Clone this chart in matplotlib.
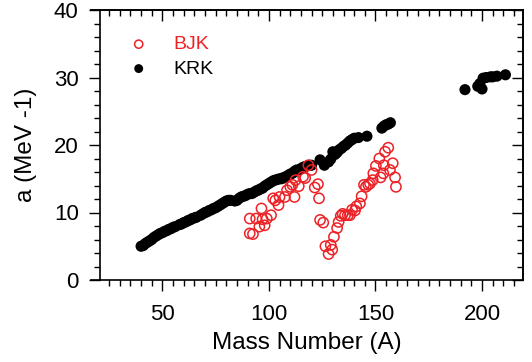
import numpy as np
import matplotlib
matplotlib.use("Agg")
import matplotlib.pyplot as plt
from matplotlib.ticker import FixedLocator

plt.rcParams['font.family'] = ['Liberation Sans', 'DejaVu Sans']

RED = '#ec2227'

# KRK systematics (filled black dots)
krk_A = [40, 41, 42, 43, 44, 45, 46, 47, 48, 49, 50, 51, 52, 53, 54, 55, 56, 58, 59, 60,
         61, 62, 63, 64, 65, 66, 68, 69, 70, 71, 72, 73, 74, 75, 76, 77, 78, 79, 80, 81,
         82, 84, 85, 86, 87, 88, 89, 90, 91, 92, 93, 94, 95, 96, 97, 98, 99, 100, 101, 102,
         103, 104, 105, 106, 107, 108, 109, 110, 111, 112, 113, 114, 115, 116, 117, 118, 119, 120,
         124, 126, 128, 129, 130, 131, 132, 133, 134, 135, 136, 137, 138, 139, 140, 142, 146,
         153, 154, 155, 156, 157,
         192, 198, 199, 200, 200.5, 202, 204, 205, 207, 211]
krk_a = [5.0, 5.1, 5.4, 5.6, 5.8, 6.0, 6.3, 6.5, 6.7, 6.9, 7.0, 7.2, 7.3, 7.5, 7.6, 7.8, 7.9, 8.2, 8.3, 8.5,
         8.6, 8.8, 8.9, 9.1, 9.2, 9.3, 9.6, 9.8, 10.0, 10.1, 10.3, 10.4, 10.6, 10.7, 10.9, 11.1, 11.3, 11.5, 11.7, 11.8,
         11.8, 11.7, 11.8, 12.1, 12.3, 12.4, 12.5, 12.7, 12.8, 12.8, 13.0, 13.2, 13.3, 13.5, 13.6, 13.9, 14.1, 14.3, 14.5, 14.7,
         14.8, 14.9, 15.0, 15.0, 15.2, 15.3, 15.5, 15.7, 15.8, 16.1, 16.3, 16.3, 16.5, 16.7, 16.8, 16.9, 17.0, 17.0,
         17.8, 17.0, 17.5, 17.9, 19.0, 18.6, 18.9, 19.3, 19.5, 19.8, 20.0, 20.3, 20.6, 20.8, 21.0, 21.1, 21.3,
         22.5, 22.8, 23.0, 23.1, 23.3,
         28.2, 28.7, 29.1, 28.3, 29.9, 30.0, 30.1, 30.1, 30.2, 30.4]

# BJK values (open red circles)
bjk_A = [91, 92.5, 91, 94, 96.5, 95.5, 97, 98, 99, 101, 102, 103, 104.5, 105, 107.5, 108.5, 110, 111,
         112, 114, 112.5, 116, 117, 118.5, 120, 121.5, 123, 123.5, 124, 125.5, 126.5, 128, 129.7, 129,
         130.5, 132, 132.7, 133.7, 134.6, 135.7, 137, 138, 139, 140.4, 141, 142.7, 143.5, 144.6, 145.5,
         146.6, 147.4, 148.7, 149, 150.2, 151.8, 152.4, 153.9, 153.7, 154.5, 156, 156.8, 158.1, 159.2, 159.6]
bjk_a = [6.9, 6.8, 9.1, 9.1, 10.6, 7.9, 9.0, 8.1, 9.1, 9.6, 12.1, 11.8, 11.1, 12.3, 12.3, 13.3, 13.8, 14.1,
         12.3, 13.9, 14.8, 15.3, 15.1, 17.0, 16.3, 13.7, 14.2, 12.1, 8.9, 8.5, 5.0, 3.85, 4.5, 5.2,
         6.4, 7.7, 8.6, 9.5, 9.8, 9.6, 9.6, 9.6, 10.4, 10.3, 10.9, 11.35, 12.4, 14.1, 13.8,
         14.1, 14.3, 14.8, 15.8, 16.9, 18.0, 15.2, 17.0, 15.8, 19.0, 19.6, 16.3, 17.3, 15.2, 13.8]

fig = plt.figure(figsize=(5.32, 3.62), dpi=100)
ax = fig.add_axes([91 / 532, 82 / 362, 431.5 / 532, 270 / 362])

ax.scatter(krk_A, krk_a, s=64, c='black', edgecolors='none', zorder=3, label='KRK')
ax.scatter(bjk_A, bjk_a, s=54, facecolors='none', edgecolors=RED, linewidths=1.1, zorder=4, label='BJK')

ax.set_xlim(16.5, 219)
ax.set_ylim(0, 40)
ax.spines['left'].set_position(('data', 20.5))
for s in ax.spines.values():
    s.set_linewidth(1.2)

ax.xaxis.set_major_locator(FixedLocator([50, 100, 150, 200]))
ax.xaxis.set_minor_locator(FixedLocator(np.arange(25, 220, 5)))
ax.yaxis.set_major_locator(FixedLocator([0, 10, 20, 30, 40]))
ax.yaxis.set_minor_locator(FixedLocator(np.arange(0, 41, 2)))

ax.tick_params(which='major', direction='out', length=8, width=1, labelsize=16, colors='black')
ax.tick_params(which='minor', direction='out', length=4, width=1)
ax.tick_params(axis='x', which='major', pad=9)
ax.tick_params(axis='y', which='major', pad=7)

# mirrored ticks on top and right, pointing inward
top = ax.secondary_xaxis('top')
top.xaxis.set_major_locator(FixedLocator([50, 100, 150, 200]))
top.xaxis.set_minor_locator(FixedLocator(np.arange(25, 220, 5)))
top.tick_params(which='major', direction='in', length=8, width=1, labeltop=False)
top.tick_params(which='minor', direction='in', length=4, width=1)
top.spines['top'].set_linewidth(1.2)

right = ax.secondary_yaxis('right')
right.yaxis.set_major_locator(FixedLocator([0, 10, 20, 30, 40]))
right.yaxis.set_minor_locator(FixedLocator(np.arange(0, 41, 2)))
right.tick_params(which='major', direction='in', length=8, width=1, labelright=False)
right.tick_params(which='minor', direction='in', length=4, width=1)
right.spines['right'].set_linewidth(1.2)

ax.set_xlabel('Mass Number (A)', fontsize=17.5, labelpad=5)
ax.set_ylabel('a (MeV -1)', fontsize=17.5, labelpad=12)

h, l = ax.get_legend_handles_labels()
leg = ax.legend(h[::-1], l[::-1], loc='upper left', bbox_to_anchor=(0.088, 0.905),
                frameon=False, fontsize=14, markerscale=0.8, handlelength=1.0,
                handletextpad=1.3, labelspacing=0.35, borderpad=0, borderaxespad=0,
                labelcolor=[RED, 'black'])

fig.savefig('out.png', dpi=100)
